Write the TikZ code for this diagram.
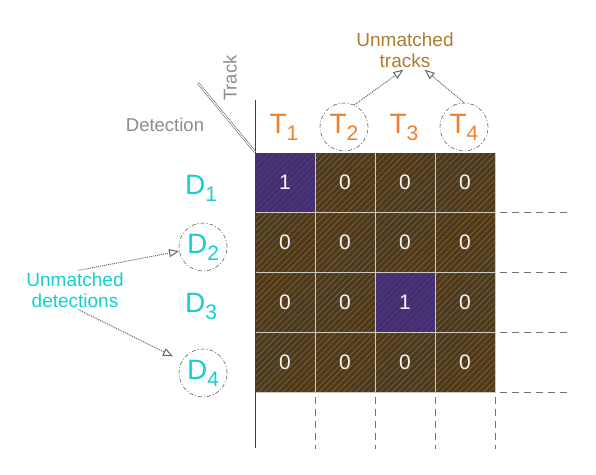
\documentclass[tikz,border=0pt]{standalone}
\usepackage{fontspec}
\setmainfont{Liberation Sans}
\usetikzlibrary{arrows.meta,patterns.meta}

\definecolor{cellbrown}{HTML}{4A3A22}
\definecolor{hatchbrown}{HTML}{8E6428}
\definecolor{cellpurple}{HTML}{4A3478}
\definecolor{hatchpurple}{HTML}{3A2764}
\definecolor{cellline}{HTML}{CFCBC0}
\definecolor{torange}{HTML}{EE7F2D}
\definecolor{dcyan}{HTML}{14CFCF}
\definecolor{tgold}{HTML}{AE7C2C}

% letter with a lowered index
\newcommand{\sublab}[2]{#1\raisebox{-7pt}{\fontsize{21}{21}\selectfont #2}}

\begin{document}
\begin{tikzpicture}[x=1pt,y=-1pt,
  cell/.style={draw=cellline, line width=1pt, minimum size=60pt, inner sep=0pt,
    text=white!92!gray, font=\fontsize{21}{21}\selectfont},
  val0/.style={preaction={fill=cellbrown},
    pattern={Lines[angle=45,distance=4.3pt,line width=0.6pt]}, pattern color=hatchbrown},
  val1/.style={preaction={fill=cellpurple},
    pattern={Lines[angle=45,distance=4.3pt,line width=0.6pt]}, pattern color=hatchpurple},
  tlab/.style={text=torange, font=\fontsize{28}{28}\selectfont, inner sep=0pt},
  dlab/.style={text=dcyan, font=\fontsize{28}{28}\selectfont, inner sep=0pt},
  ring/.style={circle, draw=black!55, line width=0.7pt,
    dash pattern=on 4pt off 2pt on 1pt off 2pt, minimum size=48pt},
  note/.style={align=center, font=\fontsize{19}{21}\selectfont, inner sep=2pt},
  pointer/.style={densely dotted, line width=1pt, draw=black!60,
    -{Triangle[open,length=10pt,width=8pt]}},
  guide/.style={dash pattern=on 7pt off 5pt, line width=1.3pt, draw=black!55},
  axis/.style={draw=black!70, double=white, double distance=1.2pt, line width=0.5pt}
]

  % Fix the page size
  \useasboundingbox (0,0) rectangle (596,474);

  % Define the cell size and the grid corner
  \def\S{60}
  \coordinate (O) at (255,152);

  % Draw the association matrix
  \foreach \r/\row in {1/{1,0,0,0},2/{0,0,0,0},3/{0,0,1,0},4/{0,0,0,0}}
    \foreach \v [count=\c] in \row
      \node[cell, val\v] (c\r\c) at (225+\S*\c, 122+\S*\r) {\v};

  % Dashed continuation to the right and below
  \foreach \r in {1,...,4}
    \draw[guide] ([xshift=4pt]c\r4.south east) -- ++(68,0);
  \foreach \c in {1,...,4}
    \draw[guide] ([yshift=-4pt]c4\c.south east) -- ++(0,52);

  % Draw the axes and the corner diagonal
  \draw[axis] (195,152) -- (572,152);
  \draw[black!75, line width=1pt] (O) ++(0,-52) -- (255,448);
  \draw[axis] (198,83) -- (O);

  % Add the axis names
  \node[text=black!45, font=\fontsize{18.5}{18.5}\selectfont] (detection) at (165,125) {Detection};
  \node[text=black!45, font=\fontsize{18.5}{18.5}\selectfont, rotate=90] (track) at (230,78) {Track};

  % Add the track labels
  \node[tlab] (t1) at (284,127) {\sublab{T}{1}};
  \node[tlab, ring] (t2) at (344,127) {\sublab{T}{2}};
  \node[tlab] (t3) at (404,127) {\sublab{T}{3}};
  \node[tlab, ring] (t4) at (464,127) {\sublab{T}{4}};

  % Add the detection labels
  \node[dlab] (d1) at (201,188) {\sublab{D}{1}};
  \node[dlab, ring] (d2) at (203,247) {\sublab{D}{2}};
  \node[dlab] (d3) at (201,306) {\sublab{D}{3}};
  \node[dlab, ring] (d4) at (203,373) {\sublab{D}{4}};

  % Notes for the unmatched ones
  \node[note, text=tgold] (tracks) at (405,50) {Unmatched\\tracks};
  \node[note, text=dcyan] (dets) at (75,290) {Unmatched\\detections};

  \draw[pointer] (t2.65) -- (tracks.-95);
  \draw[pointer] (t4.north) -- (tracks.-45);
  \draw[pointer] (dets.80) -- (d2.190);
  \draw[pointer, shorten >=10pt] (dets.-80) -- (d4.150);

\end{tikzpicture}
\end{document}
